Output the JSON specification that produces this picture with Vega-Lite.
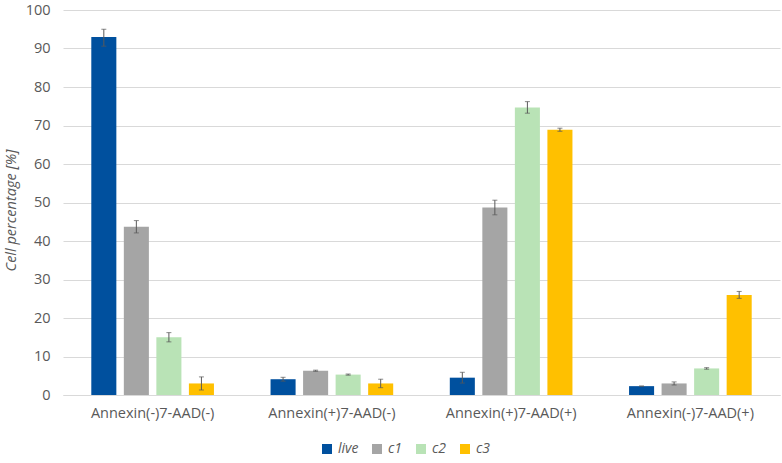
{
  "$schema": "https://vega.github.io/schema/vega-lite/v6.json",
  "width": 717,
  "height": 385,
  "autosize": "none",
  "padding": {"left": 63, "top": 10, "right": 2, "bottom": 68},
  "background": "white",
  "config": {
    "font": "Open Sans",
    "view": {"stroke": null},
    "axis": {"labelColor": "#595959", "titleColor": "#595959", "labelFontSize": 14.5, "titleFontSize": 14.5, "titleFontWeight": "normal"},
    "axisY": {
      "titleFontStyle": "italic",
      "values": [0, 10, 20, 30, 40, 50, 60, 70, 80, 90, 100],
      "ticks": false,
      "domain": false,
      "gridColor": "#d9d9d9",
      "labelPadding": 13,
      "titlePadding": 7,
      "titleY": 200
    }
  },
  "data": {
    "values": [
      {"group": "Annexin(-)7-AAD(-)", "sample": "live", "value": 93.0, "lo": 90.6, "hi": 95.0},
      {"group": "Annexin(-)7-AAD(-)", "sample": "c1", "value": 43.7, "lo": 42.1, "hi": 45.3},
      {"group": "Annexin(-)7-AAD(-)", "sample": "c2", "value": 15.0, "lo": 13.8, "hi": 16.2},
      {"group": "Annexin(-)7-AAD(-)", "sample": "c3", "value": 3.0, "lo": 1.3, "hi": 4.7},
      {"group": "Annexin(+)7-AAD(-)", "sample": "live", "value": 4.1, "lo": 3.6, "hi": 4.6},
      {"group": "Annexin(+)7-AAD(-)", "sample": "c1", "value": 6.3, "lo": 6.15, "hi": 6.45},
      {"group": "Annexin(+)7-AAD(-)", "sample": "c2", "value": 5.3, "lo": 5.15, "hi": 5.45},
      {"group": "Annexin(+)7-AAD(-)", "sample": "c3", "value": 3.0, "lo": 1.9, "hi": 4.1},
      {"group": "Annexin(+)7-AAD(+)", "sample": "live", "value": 4.5, "lo": 3.1, "hi": 5.9},
      {"group": "Annexin(+)7-AAD(+)", "sample": "c1", "value": 48.7, "lo": 46.8, "hi": 50.6},
      {"group": "Annexin(+)7-AAD(+)", "sample": "c2", "value": 74.7, "lo": 73.2, "hi": 76.2},
      {"group": "Annexin(+)7-AAD(+)", "sample": "c3", "value": 68.9, "lo": 68.5, "hi": 69.3},
      {"group": "Annexin(-)7-AAD(+)", "sample": "live", "value": 2.3, "lo": 2.3, "hi": 2.3},
      {"group": "Annexin(-)7-AAD(+)", "sample": "c1", "value": 3.0, "lo": 2.6, "hi": 3.4},
      {"group": "Annexin(-)7-AAD(+)", "sample": "c2", "value": 6.9, "lo": 6.7, "hi": 7.1},
      {"group": "Annexin(-)7-AAD(+)", "sample": "c3", "value": 26.0, "lo": 25.1, "hi": 26.9}
    ]
  },
  "encoding": {
    "x": {
      "field": "group",
      "type": "nominal",
      "sort": ["Annexin(-)7-AAD(-)", "Annexin(+)7-AAD(-)", "Annexin(+)7-AAD(+)", "Annexin(-)7-AAD(+)"],
      "scale": {"paddingInner": 0.274, "paddingOuter": 0.137},
      "axis": {"title": null, "labelAngle": 0, "ticks": false, "domainColor": "#d9d9d9", "labelPadding": 11, "labelLimit": 300}
    },
    "xOffset": {
      "field": "sample",
      "type": "nominal",
      "sort": ["live", "c1", "c2", "c3"],
      "scale": {"paddingInner": 0.23, "paddingOuter": 0.115}
    }
  },
  "layer": [
    {
      "mark": {"type": "bar"},
      "encoding": {
        "y": {
          "field": "value",
          "type": "quantitative",
          "title": "Cell percentage [%]",
          "scale": {"domain": [0, 100]}
        },
        "color": {
          "field": "sample",
          "type": "nominal",
          "scale": {"domain": ["live", "c1", "c2", "c3"], "range": ["#00509e", "#a5a5a5", "#b9e3b6", "#ffc000"]},
          "legend": {
            "title": null,
            "orient": "none",
            "legendX": 257,
            "legendY": 432,
            "direction": "horizontal",
            "symbolType": "square",
            "symbolSize": 100,
            "symbolStrokeWidth": 0,
            "labelFontSize": 14,
            "labelFontStyle": "italic",
            "labelColor": "#595959",
            "columnPadding": 11
          }
        }
      }
    },
    {
      "mark": {"type": "rule", "color": "#595959", "strokeWidth": 1},
      "encoding": {
        "y": {"field": "lo", "type": "quantitative", "title": "Cell percentage [%]"},
        "y2": {"field": "hi"}
      }
    },
    {
      "mark": {"type": "tick", "color": "#595959", "size": 5, "thickness": 1},
      "encoding": {"y": {"field": "lo", "type": "quantitative", "title": "Cell percentage [%]"}}
    },
    {
      "mark": {"type": "tick", "color": "#595959", "size": 5, "thickness": 1},
      "encoding": {"y": {"field": "hi", "type": "quantitative", "title": "Cell percentage [%]"}}
    }
  ]
}
